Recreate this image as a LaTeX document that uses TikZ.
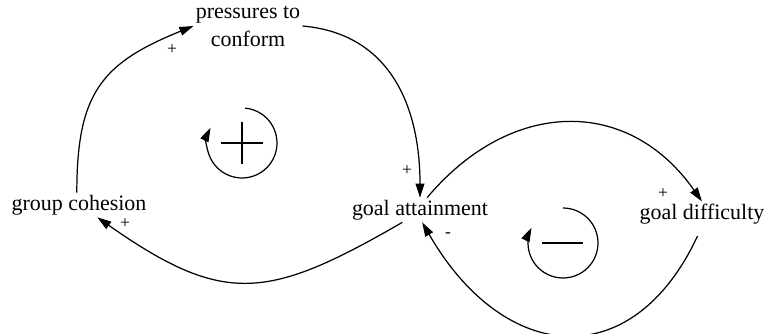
\documentclass[tikz,border=0pt]{standalone}
\usepackage{fontspec}
\setmainfont{Liberation Serif}
\usetikzlibrary{arrows.meta}
\begin{document}
\begin{tikzpicture}[x=0.02cm, y=-0.02cm, >={Triangle[length=8pt,width=5pt]}, line width=0.7pt,
    var/.style={inner sep=1pt, font=\fontsize{12.5}{16}\selectfont},
    pol/.style={inner sep=0pt, font=\normalsize},
    link/.style={->}]
    \useasboundingbox (0,0) rectangle (765,334);
    % Variablen
    \node[var, align=center] (pc) at (248,26) {pressures to\\conform};
    \node[var] (gc) at (79,205) {group cohesion};
    \node[var] (ga) at (420,210) {goal attainment};
    \node[var] (gd) at (702,214) {goal difficulty};
    % Kausale Verbindungen
    \draw[link] (gc.100) to[out=90, in=202, looseness=1.25] (pc.west);
    \draw[link] (pc.east) to[out=-5, in=90, looseness=1.1] (ga.north);
    \draw[link] (ga.215) to[out=210, in=-35, looseness=1.3] (gc.-34);
    \draw[link] (ga.60) to[out=50, in=125, looseness=1.2] (gd.north);
    \draw[link, shorten <=6pt] (gd.south) to[out=-115, in=-60, looseness=1.5] (ga.-80);
    % Polaritaeten
    \node[pol] (s1) at (172,50) {+};
    \node[pol] (s2) at (125,224) {+};
    \node[pol] (s3) at (407,171) {+};
    \node[pol] (s4) at (663,194) {+};
    \node[pol] (s5) at (448,235) {-};
    % Schleifensymbole
    \coordinate (r1) at (242,143);
    \coordinate (b1) at (563,243);
    \draw[->] (r1) ++(85:0.7cm) arc[start angle=85, end angle=-206, radius=0.7cm];
    \draw[line width=1.5pt] (r1) ++(-21,0) -- ++(42,0);
    \draw[line width=1.5pt] (r1) ++(0,-21) -- ++(0,42);
    \draw[->] (b1) ++(90:0.7cm) arc[start angle=90, end angle=-206, radius=0.7cm];
    \draw[line width=1.5pt] (b1) ++(-21,0) -- ++(41,0);
\end{tikzpicture}
\end{document}
